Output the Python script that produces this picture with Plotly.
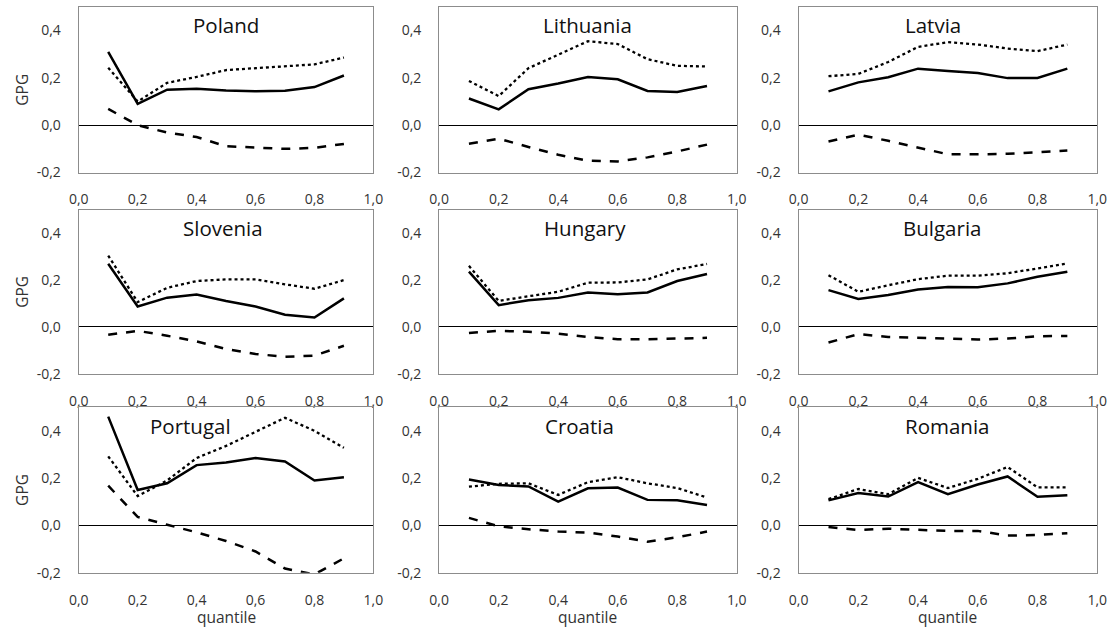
import plotly.graph_objects as go

# quantiles
quantiles = [0.1, 0.2, 0.3, 0.4, 0.5, 0.6, 0.7, 0.8, 0.9]

countries = ["Poland", "Lithuania", "Latvia",
             "Slovenia", "Hungary", "Bulgaria",
             "Portugal", "Croatia", "Romania"]

# total gap (solid)
gap_total = {
    "Poland":    [0.31, 0.09, 0.15, 0.154, 0.147, 0.144, 0.146, 0.161, 0.21],
    "Lithuania": [0.113, 0.067, 0.152, 0.176, 0.204, 0.194, 0.145, 0.14, 0.166],
    "Latvia":    [0.143, 0.181, 0.203, 0.239, 0.229, 0.221, 0.199, 0.2, 0.239],
    "Slovenia":  [0.27, 0.087, 0.125, 0.138, 0.111, 0.087, 0.052, 0.04, 0.122],
    "Hungary":   [0.236, 0.093, 0.114, 0.124, 0.147, 0.14, 0.147, 0.196, 0.226],
    "Bulgaria":  [0.157, 0.119, 0.136, 0.16, 0.171, 0.169, 0.186, 0.214, 0.236],
    "Portugal":  [0.46, 0.15, 0.178, 0.255, 0.266, 0.285, 0.27, 0.19, 0.204],
    "Croatia":   [0.194, 0.171, 0.165, 0.101, 0.157, 0.16, 0.108, 0.106, 0.086],
    "Romania":   [0.106, 0.137, 0.122, 0.183, 0.132, 0.173, 0.207, 0.121, 0.128],
}

# unexplained part (dotted)
gap_unexplained = {
    "Poland":    [0.243, 0.1, 0.179, 0.204, 0.233, 0.24, 0.247, 0.257, 0.286],
    "Lithuania": [0.187, 0.123, 0.241, 0.298, 0.355, 0.343, 0.279, 0.251, 0.248],
    "Latvia":    [0.207, 0.217, 0.267, 0.331, 0.351, 0.341, 0.324, 0.313, 0.341],
    "Slovenia":  [0.305, 0.106, 0.167, 0.196, 0.203, 0.203, 0.182, 0.163, 0.2],
    "Hungary":   [0.261, 0.111, 0.131, 0.15, 0.189, 0.19, 0.203, 0.246, 0.269],
    "Bulgaria":  [0.221, 0.15, 0.178, 0.204, 0.219, 0.219, 0.229, 0.25, 0.271],
    "Portugal":  [0.292, 0.124, 0.19, 0.285, 0.336, 0.394, 0.455, 0.4, 0.328],
    "Croatia":   [0.164, 0.176, 0.178, 0.129, 0.183, 0.204, 0.178, 0.158, 0.118],
    "Romania":   [0.111, 0.154, 0.132, 0.201, 0.158, 0.197, 0.247, 0.161, 0.161],
}

# explained part (dashed)
gap_explained = {
    "Poland":    [0.069, 0.0, -0.031, -0.05, -0.089, -0.096, -0.1, -0.096, -0.079],
    "Lithuania": [-0.078, -0.057, -0.092, -0.125, -0.15, -0.153, -0.136, -0.111, -0.082],
    "Latvia":    [-0.069, -0.04, -0.066, -0.093, -0.123, -0.123, -0.121, -0.114, -0.107],
    "Slovenia":  [-0.034, -0.017, -0.038, -0.062, -0.095, -0.116, -0.128, -0.123, -0.081],
    "Hungary":   [-0.026, -0.017, -0.021, -0.029, -0.043, -0.053, -0.053, -0.05, -0.047],
    "Bulgaria":  [-0.067, -0.031, -0.043, -0.047, -0.05, -0.054, -0.05, -0.04, -0.039],
    "Portugal":  [0.168, 0.036, 0.003, -0.029, -0.066, -0.11, -0.182, -0.207, -0.139],
    "Croatia":   [0.032, -0.004, -0.016, -0.026, -0.03, -0.047, -0.069, -0.05, -0.026],
    "Romania":   [-0.007, -0.019, -0.014, -0.019, -0.023, -0.023, -0.043, -0.04, -0.033],
}

y_ticks = [-0.2, 0.0, 0.2, 0.4]
y_tick_text = ["-0,2", "0,0", "0,2", "0,4"]
x_ticks = [0.0, 0.2, 0.4, 0.6, 0.8, 1.0]
x_tick_text = ["0,0", "0,2", "0,4", "0,6", "0,8", "1,0"]
Y_RANGE = [-0.2, 0.5]

W, H = 1118, 634
col_px = [(70, 370), (437, 740), (803, 1107)]
row_px = [(7, 175), (213, 379), (413, 581)]
title_pos = [0.5, 0.5, 0.45, 0.49, 0.49, 0.48, 0.38, 0.47, 0.5]

FONT = "Open Sans, Lato, sans-serif"
TICK_FONT = dict(family=FONT, size=14, color="#333")
LABEL_FONT = dict(family=FONT, size=15.5, color="#333")

fig = go.Figure()
layout = {}
annotations = []

for i, c in enumerate(countries):
    r, k = divmod(i, 3)
    n = i + 1
    xs = "" if n == 1 else str(n)
    xd = [col_px[k][0] / W, col_px[k][1] / W]
    yd = [1 - row_px[r][1] / H, 1 - row_px[r][0] / H]

    styles = [
        (gap_total[c], dict(color="black", width=2.5, dash="solid")),
        (gap_unexplained[c], dict(color="black", width=2.3, dash="dot")),
        (gap_explained[c], dict(color="black", width=2.5, dash="dash")),
    ]
    for vals, ln in styles:
        fig.add_trace(go.Scatter(x=quantiles, y=vals, mode="lines", line=ln,
                                 xaxis="x" + xs, yaxis="y" + xs,
                                 showlegend=False, hoverinfo="skip"))

    layout["xaxis" + xs] = dict(
        domain=xd, anchor="y" + xs, range=[0, 1], tickvals=x_ticks,
        ticktext=x_tick_text, showgrid=False, zeroline=False, showline=True,
        linecolor="#8c8c8c", linewidth=1.2, mirror=True, ticks="",
        ticklabelstandoff=14, tickfont=TICK_FONT,
    )
    layout["yaxis" + xs] = dict(
        domain=yd, anchor="x" + xs, range=Y_RANGE, tickvals=y_ticks,
        ticktext=y_tick_text, showgrid=False, zeroline=True,
        zerolinecolor="black", zerolinewidth=1, showline=True,
        linecolor="#8c8c8c", linewidth=1.2, mirror=True, ticks="",
        ticklabelstandoff=14, tickfont=TICK_FONT,
        title=dict(text="GPG" if k == 0 else "", font=LABEL_FONT, standoff=4),
    )
    # tick marks along the zero line
    zero_pos = yd[0] + (0 - Y_RANGE[0]) / (Y_RANGE[1] - Y_RANGE[0]) * (yd[1] - yd[0])
    tk = str(n + 9)
    layout["xaxis" + tk] = dict(
        domain=xd, overlaying="x" + xs, anchor="free", position=zero_pos,
        range=[0, 1], tickvals=[0.2, 0.4, 0.6, 0.8], showticklabels=False,
        ticks="outside", ticklen=5, tickwidth=1, tickcolor="black",
        showline=False, showgrid=False, zeroline=False,
    )
    annotations.append(dict(
        text=c, xref="x" + xs + " domain", yref="y" + xs + " domain",
        x=title_pos[i], y=0.985, xanchor="center", yanchor="top",
        showarrow=False, font=dict(family=FONT, size=20.5, color="#111"),
    ))
    # x-axis label under the bottom row
    if r == 2:
        annotations.append(dict(
            text="quantile", xref="x" + xs + " domain", yref="paper",
            x=0.5, y=1 - 626 / H, xanchor="center", yanchor="middle",
            showarrow=False, font=LABEL_FONT,
        ))

fig.update_layout(**layout)
fig.update_layout(
    width=W, height=H, margin=dict(l=0, r=0, t=0, b=0),
    plot_bgcolor="white", paper_bgcolor="white",
    annotations=annotations,
)
fig.write_html("out.html")
